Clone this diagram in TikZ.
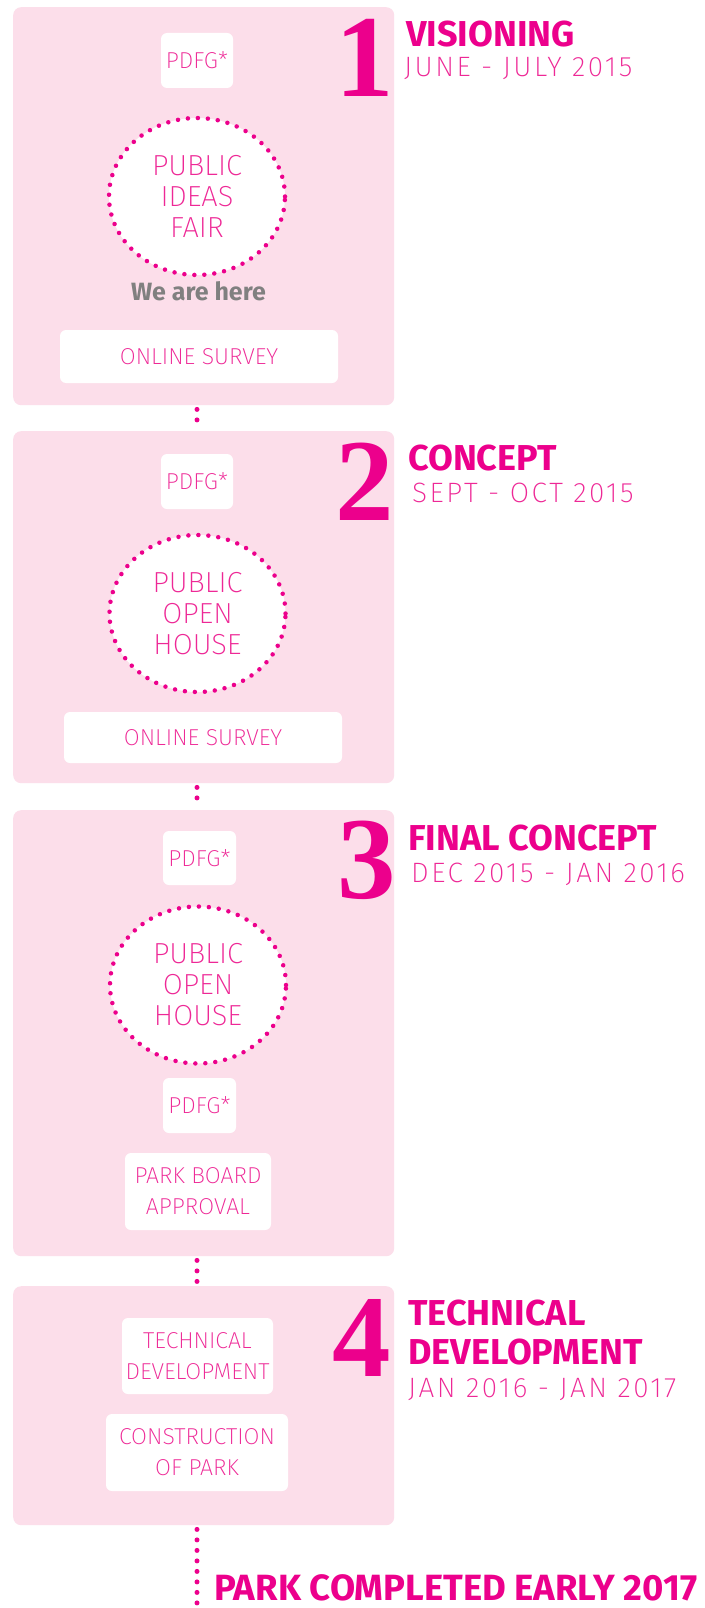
\documentclass[tikz,border=0pt]{standalone}
\usepackage{fontspec}
\setmainfont{Fira Sans}
\newfontfamily\lightf{Fira Sans ExtraLight}
\newfontfamily\datef{Fira Sans ExtraLight}[LetterSpace=9]
\newfontfamily\numf{Liberation Serif}
\usetikzlibrary{shapes.geometric,calc}
\definecolor{panelpink}{RGB}{252,222,234}
\definecolor{hotpink}{RGB}{236,0,140}
\definecolor{softpink}{RGB}{238,40,150}
\definecolor{heregray}{RGB}{128,128,128}
\tikzset{
  panel/.style={fill=panelpink, rounded corners=8pt, inner sep=0pt, draw=none, anchor=north west},
  whitebox/.style={fill=white, rounded corners=6pt, inner sep=0pt, text=softpink,
    font=\lightf\fontsize{23}{31}\selectfont, align=center},
  ideas/.style={ellipse, fill=white, draw=hotpink, line width=4.5pt, dash pattern=on 0pt off 10pt,
    line cap=round, inner sep=0pt, minimum width=176pt, minimum height=157pt,
    font=\lightf\fontsize{29}{31}\selectfont, align=center, text=softpink},
  bignum/.style={font=\numf\bfseries\fontsize{117}{117}\selectfont, text=hotpink, inner sep=0pt, anchor=base},
  title/.style={font=\bfseries\fontsize{36}{39}\selectfont, text=hotpink, inner sep=0pt, anchor=base west},
  dates/.style={font=\datef\fontsize{28}{31}\selectfont, text=softpink, inner sep=0pt, anchor=base west},
  connector/.style={draw=hotpink, line width=5pt, line cap=round, dash pattern=on 0pt off 10.5pt,
    shorten <=4pt, shorten >=4pt},
}
\begin{document}
\begin{tikzpicture}[x=1pt,y=-1pt]
\useasboundingbox[fill=white] (0,0) rectangle (704,1608);
% panels
\node[panel, minimum width=381pt, minimum height=398pt] (p1) at (13,7) {};
\node[panel, minimum width=381pt, minimum height=352pt] (p2) at (13,431) {};
\node[panel, minimum width=381pt, minimum height=446pt] (p3) at (13,810) {};
\node[panel, minimum width=381pt, minimum height=239pt] (p4) at (13,1286) {};
% stage 1
\node[whitebox, minimum width=72pt, minimum height=55pt] (pdfg1) at (197,60.5) {PDFG*};
\node[ideas] (fair) at (197,196.5) {PUBLIC\\IDEAS\\FAIR};
\node[font=\bfseries\fontsize{25}{28}\selectfont, text=heregray, inner sep=0pt, anchor=base] (here) at (198.5,300) {We are here};
\node[whitebox, minimum width=278pt, minimum height=53pt] (survey1) at (199,356.5) {ONLINE SURVEY};
\node[bignum] (n1) at (364.5,97) {1};
\node[title] (t1) at (406,47) {VISIONING};
\node[dates] (d1) at (404,77) {JUNE - JULY 2015};
% stage 2
\node[whitebox, minimum width=72pt, minimum height=55pt] (pdfg2) at (197,481.5) {PDFG*};
\node[ideas] (open2) at (197.5,613.5) {PUBLIC\\OPEN\\HOUSE};
\node[whitebox, minimum width=278pt, minimum height=51pt] (survey2) at (203,737.5) {ONLINE SURVEY};
\node[bignum] (n2) at (364.5,520) {2};
\node[title] (t2) at (408,470) {CONCEPT};
\node[dates] (d2) at (412,502) {SEPT - OCT 2015};
% stage 3
\node[whitebox, minimum width=73pt, minimum height=54pt] (pdfg3a) at (199.5,858) {PDFG*};
\node[ideas] (open3) at (198,985) {PUBLIC\\OPEN\\HOUSE};
\node[whitebox, minimum width=73pt, minimum height=55pt] (pdfg3b) at (199.5,1105.5) {PDFG*};
\node[whitebox, minimum width=146pt, minimum height=77pt] (board) at (198,1191.5) {PARK BOARD\\APPROVAL};
\node[bignum] (n3) at (367,898) {3};
\node[title] (t3) at (408,850) {FINAL CONCEPT};
\node[dates] (d3) at (411,882) {DEC 2015 - JAN 2016};
% stage 4
\node[whitebox, minimum width=151pt, minimum height=76pt] (tech) at (197.5,1356) {TECHNICAL\\DEVELOPMENT};
\node[whitebox, minimum width=182pt, minimum height=77pt] (build) at (197,1452.5) {CONSTRUCTION\\OF PARK};
\node[bignum] (n4) at (361.5,1376) {4};
\node[title, align=left, anchor=north west] (t4) at (408,1300) {TECHNICAL\\DEVELOPMENT};
\node[dates] (d4) at (408,1397) {JAN 2016 - JAN 2017};
% end
\coordinate (finish) at (197,1606);
\node[font=\bfseries\fontsize{36.5}{40}\selectfont, text=hotpink, inner sep=0pt, anchor=base west] (done) at (214,1600) {PARK COMPLETED EARLY 2017};
% connectors
\draw[connector] (fair |- p1.south) -- (fair |- p2.north);
\draw[connector] (fair |- p2.south) -- (fair |- p3.north);
\draw[connector] (fair |- p3.south) -- (fair |- p4.north);
\draw[connector, shorten >=0pt] (fair |- p4.south) -- (finish);
\end{tikzpicture}
\end{document}
